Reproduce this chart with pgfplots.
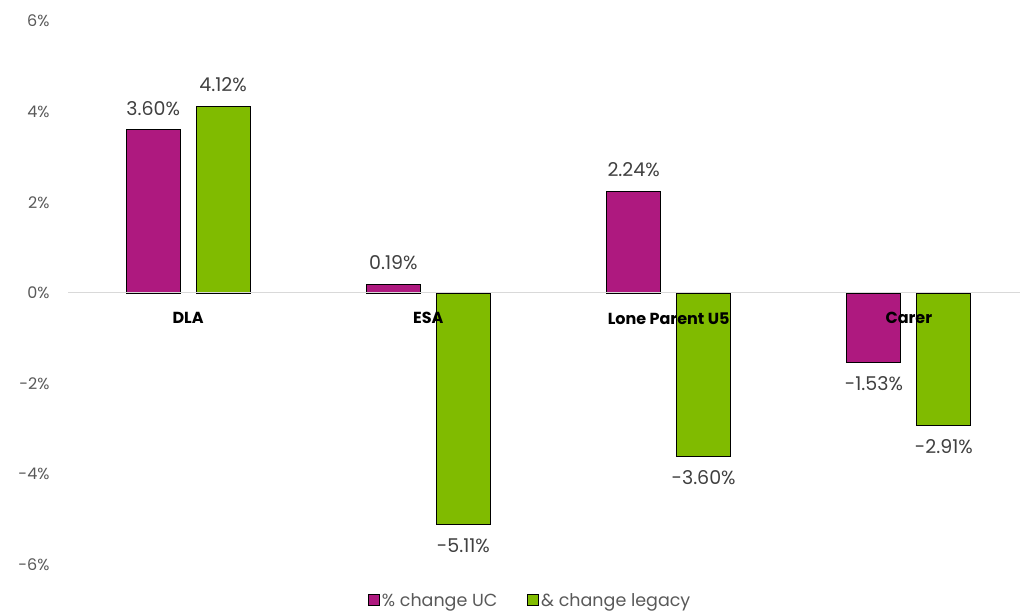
\documentclass[border=0pt]{standalone}
\usepackage{pgfplots}
\pgfplotsset{compat=1.18}
\usepackage{fontspec}
\setmainfont{Poppins}
\definecolor{ucmag}{HTML}{AE197F}
\definecolor{leggreen}{HTML}{80BB00}
\definecolor{ticktxt}{HTML}{595959}
\definecolor{valtxt}{HTML}{404040}
\definecolor{zeroline}{HTML}{D9D9D9}
\begin{document}
\begin{tikzpicture}[x=1pt,y=1pt]
\useasboundingbox (0,0) rectangle (1020,614);
\begin{axis}[
  at={(68pt,49pt)}, anchor=south west,
  width=961pt, height=544pt, scale only axis,
  xmin=-0.5, xmax=3.5, ymin=-6, ymax=6,
  ybar=16pt, bar width=54pt,
  axis on top,
  axis x line=middle,
  axis y line=left,
  x axis line style={-, draw=zeroline, line width=1pt},
  y axis line style={draw=none},
  major tick length=0pt,
  xtick={0,1,2,3},
  xticklabels={DLA,ESA,Lone Parent U5,Carer},
  xticklabel style={font=\fontsize{16}{18}\selectfont\bfseries, text=black, yshift=-16pt},
  ytick={-6,-4,-2,0,2,4,6},
  yticklabels={-6\%,-4\%,-2\%,0\%,2\%,4\%,6\%},
  yticklabel style={font=\fontsize{16}{18}\selectfont, text=ticktxt, xshift=-15pt},
  point meta=y,
  nodes near coords={\pgfmathprintnumber[fixed,fixed zerofill,precision=2,assume math mode=true]{\pgfplotspointmeta}\%},
  nodes near coords style={font=\fontsize{19}{21}\selectfont, text=valtxt, inner sep=14pt},
  legend columns=2,
  legend style={at={(0.481,-0.065)}, anchor=center, draw=none, fill=none,
    font=\fontsize{17.5}{19}\selectfont, text=ticktxt,
    /tikz/every even column/.append style={column sep=28pt}},
  legend image code/.code={\draw[#1,draw=black,line width=0.8pt] (0pt,-5.5pt) rectangle (11pt,5.5pt);},
]
\addplot[fill=ucmag, draw=black, line width=0.8pt] coordinates {
  (0,3.60)
  (1,0.19)
  (2,2.24)
  (3,-1.53)
};
\addplot[fill=leggreen, draw=black, line width=0.8pt] coordinates {
  (0,4.12)
  (1,-5.11)
  (2,-3.60)
  (3,-2.91)
};
\legend{\% change UC,\& change legacy}
\end{axis}
\end{tikzpicture}
\end{document}
